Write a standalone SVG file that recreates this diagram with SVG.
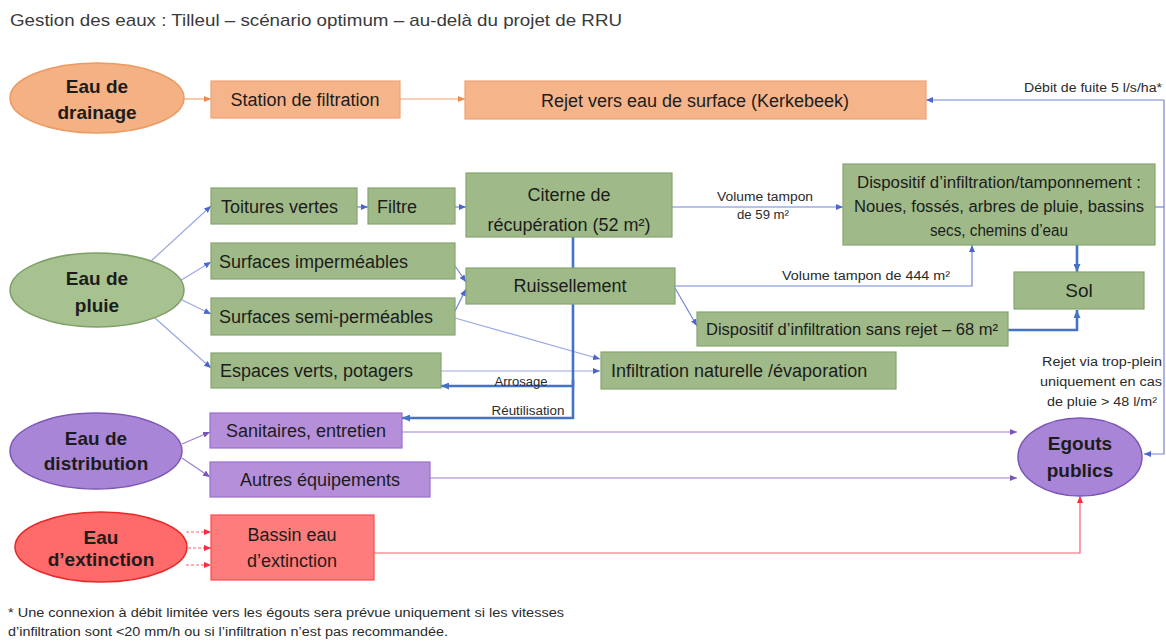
<svg xmlns="http://www.w3.org/2000/svg" width="1166" height="641" viewBox="0 0 1166 641">
  <style>
    text { font-family: "Liberation Sans", Arial, sans-serif; fill: #1c1c1c; }
    .t { font-size: 18px; }
    .ts { font-size: 16px; }
    .el { font-size: 19px; font-weight: bold; }
    .lab { font-size: 12.5px; fill: #2a2a2a; }
    .note { font-size: 12px; fill: #2a2a2a; }
    .mid { text-anchor: middle; }
    .end { text-anchor: end; }
    .or { fill: #f5b48a; stroke: #f1a273; stroke-width: 1.2; }
    .gr { fill: #9fba88; stroke: #86a56e; stroke-width: 1.2; }
    .pu { fill: #b68fdb; stroke: #9a6fcf; stroke-width: 1.2; }
    .rd { fill: #ff7c7c; stroke: #ff4a4a; stroke-width: 1.2; }
    .eor { fill: #f4b183; stroke: #ec9a62; stroke-width: 1.5; }
    .egr { fill: #a7c290; stroke: #7f9f66; stroke-width: 1.5; }
    .epu { fill: #a985d8; stroke: #7d56b6; stroke-width: 1.5; }
    .erd { fill: #ff6a6a; stroke: #e52a2a; stroke-width: 1.5; }
    .c { fill: none; stroke-width: 1.2; }
    .cb { stroke: #6f86d8; marker-end: url(#ab); }
    .cbn { stroke: #6f86d8; }
    .cl { stroke: #9aa6e6; marker-end: url(#ab); }
    .ck { stroke: #4472c4; stroke-width: 2.6; }
    .co { stroke: #f4a470; marker-end: url(#ao); }
    .cp { stroke: #9a7ed4; marker-end: url(#ap); }
    .cr { stroke: #ff5a6a; marker-end: url(#ar); }
  </style>
  <defs>
    <marker id="ab" markerUnits="userSpaceOnUse" markerWidth="7" markerHeight="6" refX="7" refY="3" orient="auto"><path d="M0,0 L7,3 L0,6 z" fill="#4a66cc"/></marker>
    <marker id="abk" markerUnits="userSpaceOnUse" markerWidth="8" markerHeight="7" refX="8" refY="3.5" orient="auto"><path d="M0,0 L8,3.5 L0,7 z" fill="#4472c4"/></marker>
    <marker id="ao" markerUnits="userSpaceOnUse" markerWidth="7" markerHeight="6" refX="7" refY="3" orient="auto"><path d="M0,0 L7,3 L0,6 z" fill="#ee8a4a"/></marker>
    <marker id="ap" markerUnits="userSpaceOnUse" markerWidth="7" markerHeight="6" refX="7" refY="3" orient="auto"><path d="M0,0 L7,3 L0,6 z" fill="#7a55b8"/></marker>
    <marker id="ar" markerUnits="userSpaceOnUse" markerWidth="7" markerHeight="6" refX="7" refY="3" orient="auto"><path d="M0,0 L7,3 L0,6 z" fill="#ff2a40"/></marker>
  </defs>

  <rect width="1166" height="641" fill="#ffffff"/>

  <text x="10" y="26" style="font-size:17px; fill:#3a3a3a" textLength="612" lengthAdjust="spacingAndGlyphs">Gestion des eaux : Tilleul – scénario optimum – au-delà du projet de RRU</text>

  <!-- connectors -->
  <g id="connectors">
    <!-- drainage -->
    <line class="c co" x1="184" y1="99" x2="211" y2="99"/>
    <line class="c co" x1="400" y1="99" x2="465" y2="99"/>
    <!-- rain water -->
    <line class="c cl" x1="150" y1="262" x2="211" y2="206"/>
    <line class="c cl" x1="178" y1="282" x2="211" y2="262"/>
    <line class="c cl" x1="178" y1="298" x2="211" y2="314"/>
    <line class="c cl" x1="155" y1="318" x2="211" y2="368"/>
    <line class="c cb" x1="357" y1="207" x2="368" y2="207"/>
    <line class="c cb" x1="455" y1="207" x2="466" y2="207"/>
    <line class="c cb" x1="672" y1="207" x2="843" y2="207"/>
    <line class="c cb" x1="455" y1="266" x2="466" y2="282"/>
    <line class="c cb" x1="455" y1="311" x2="466" y2="289"/>
    <line class="c cl" x1="455" y1="318" x2="600" y2="359"/>
    <line class="c cl" x1="441" y1="371" x2="600" y2="371"/>
    <polyline class="c cb" points="675,286 972,286 972,245"/>
    <line class="c cb" x1="675" y1="288" x2="697" y2="326"/>
    <polyline class="c ck" points="1008,330 1077,330 1077,310" marker-end="url(#abk)"/>
    <line class="c ck" x1="1077" y1="245" x2="1077" y2="272" marker-end="url(#abk)"/>
    <!-- reuse of stored rain water -->
    <polyline class="c ck" points="573,237 573,386 441,386" marker-end="url(#abk)"/>
    <polyline class="c ck" points="573,380 573,418 402,418" marker-end="url(#abk)"/>
    <!-- leak flow and overflow on the right -->
    <line class="c cbn" x1="1155" y1="207" x2="1164" y2="207"/>
    <line class="c cb" x1="1164" y1="100" x2="926" y2="100"/>
    <polyline class="c cb" points="1164,100 1164,454 1144,454"/>
    <!-- distribution water -->
    <line class="c cp" x1="182" y1="444" x2="210" y2="432"/>
    <line class="c cp" x1="182" y1="458" x2="210" y2="477"/>
    <line class="c cp" x1="402" y1="432" x2="1017" y2="432"/>
    <line class="c cp" x1="430" y1="478" x2="1017" y2="478"/>
    <!-- fire water -->
    <line class="c cr" x1="186" y1="532" x2="211" y2="532" stroke-dasharray="3 2"/>
    <line class="c cr" x1="188" y1="548" x2="211" y2="548" stroke-dasharray="3 2"/>
    <line class="c cr" x1="186" y1="565" x2="211" y2="565" stroke-dasharray="3 2"/>
    <polyline class="c cr" points="374,553 1080,553 1080,496"/>
  </g>

  <!-- connector labels -->
  <g id="labels">
    <text class="lab end" x="1162" y="92" textLength="138" lengthAdjust="spacingAndGlyphs">Débit de fuite 5 l/s/ha*</text>
    <text class="lab mid" x="765" y="201" textLength="96" lengthAdjust="spacingAndGlyphs">Volume tampon</text>
    <text class="lab mid" x="763" y="219" textLength="52" lengthAdjust="spacingAndGlyphs">de 59 m²</text>
    <text class="lab mid" x="866" y="280" textLength="168" lengthAdjust="spacingAndGlyphs">Volume tampon  de 444 m²</text>
    <text class="lab mid" x="521" y="386" textLength="53" lengthAdjust="spacingAndGlyphs">Arrosage</text>
    <text class="lab mid" x="528" y="415" textLength="73" lengthAdjust="spacingAndGlyphs">Réutilisation</text>
    <text class="lab end" x="1162" y="366" textLength="120" lengthAdjust="spacingAndGlyphs">Rejet via trop-plein</text>
    <text class="lab end" x="1162" y="386" textLength="122" lengthAdjust="spacingAndGlyphs">uniquement  en cas</text>
    <text class="lab end" x="1157" y="406" textLength="110" lengthAdjust="spacingAndGlyphs">de pluie &gt; 48 l/m²</text>
  </g>

  <!-- drainage water -->
  <g id="eau-drainage">
    <ellipse class="eor" cx="97" cy="98" rx="87" ry="35"/>
    <text class="el mid" x="97" y="93">Eau de</text>
    <text class="el mid" x="97" y="119">drainage</text>
  </g>
  <g id="station-filtration">
    <rect class="or" x="211" y="81" width="189" height="37"/>
    <text class="t mid" x="305" y="106">Station de filtration</text>
  </g>
  <g id="rejet-surface">
    <rect class="or" x="465" y="81" width="461" height="38"/>
    <text class="t mid" x="695" y="107">Rejet vers eau de surface (Kerkebeek)</text>
  </g>

  <!-- rain water -->
  <g id="eau-pluie">
    <ellipse class="egr" cx="97" cy="290" rx="87" ry="37"/>
    <text class="el mid" x="97" y="285">Eau de</text>
    <text class="el mid" x="97" y="312">pluie</text>
  </g>
  <g id="toitures-vertes">
    <rect class="gr" x="211" y="188" width="146" height="36"/>
    <text class="t" x="221" y="213">Toitures vertes</text>
  </g>
  <g id="filtre">
    <rect class="gr" x="368" y="188" width="87" height="36"/>
    <text class="t" x="377" y="213">Filtre</text>
  </g>
  <g id="citerne">
    <rect class="gr" x="466" y="173" width="206" height="64"/>
    <text class="t mid" x="569" y="201">Citerne de</text>
    <text class="t mid" x="569" y="231">récupération (52 m²)</text>
  </g>
  <g id="surfaces-impermeables">
    <rect class="gr" x="211" y="243" width="244" height="36"/>
    <text class="t" x="219" y="268">Surfaces imperméables</text>
  </g>
  <g id="surfaces-semi-permeables">
    <rect class="gr" x="211" y="298" width="244" height="37"/>
    <text class="t" x="219" y="323">Surfaces semi-perméables</text>
  </g>
  <g id="espaces-verts">
    <rect class="gr" x="211" y="353" width="230" height="35"/>
    <text class="t" x="220" y="377">Espaces verts, potagers</text>
  </g>
  <g id="ruissellement">
    <rect class="gr" x="466" y="268" width="209" height="36"/>
    <text class="t mid" x="570" y="292">Ruissellement</text>
  </g>
  <g id="infiltration-naturelle">
    <rect class="gr" x="601" y="352" width="295" height="37"/>
    <text class="t" x="611" y="377">Infiltration naturelle /évaporation</text>
  </g>
  <g id="dispositif-sans-rejet">
    <rect class="gr" x="697" y="312" width="311" height="34"/>
    <text class="ts mid" x="852" y="335" textLength="292" lengthAdjust="spacingAndGlyphs">Dispositif d’infiltration sans rejet – 68 m²</text>
  </g>
  <g id="dispositif-tamponnement">
    <rect class="gr" x="843" y="164" width="312" height="81"/>
    <text class="ts mid" x="999" y="188" textLength="284" lengthAdjust="spacingAndGlyphs">Dispositif d’infiltration/tamponnement  :</text>
    <text class="ts mid" x="999" y="212" textLength="290" lengthAdjust="spacingAndGlyphs">Noues, fossés, arbres de pluie, bassins</text>
    <text class="ts mid" x="999" y="236" textLength="138" lengthAdjust="spacingAndGlyphs">secs, chemins d’eau</text>
  </g>
  <g id="sol">
    <rect class="gr" x="1014" y="272" width="130" height="37"/>
    <text class="t mid" x="1079" y="297" style="font-size:19px">Sol</text>
  </g>

  <!-- distribution water -->
  <g id="eau-distribution">
    <ellipse class="epu" cx="96" cy="451" rx="86" ry="38"/>
    <text class="el mid" x="96" y="445">Eau de</text>
    <text class="el mid" x="96" y="470">distribution</text>
  </g>
  <g id="sanitaires">
    <rect class="pu" x="210" y="413" width="192" height="35"/>
    <text class="t mid" x="306" y="437">Sanitaires, entretien</text>
  </g>
  <g id="autres-equipements">
    <rect class="pu" x="210" y="462" width="220" height="35"/>
    <text class="t mid" x="320" y="486">Autres équipements</text>
  </g>
  <g id="egouts-publics">
    <ellipse class="epu" cx="1080" cy="457" rx="62" ry="39"/>
    <text class="el mid" x="1080" y="450">Egouts</text>
    <text class="el mid" x="1080" y="477">publics</text>
  </g>

  <!-- fire-fighting water -->
  <g id="eau-extinction">
    <ellipse class="erd" cx="101" cy="547" rx="86" ry="35"/>
    <text class="el mid" x="101" y="544">Eau</text>
    <text class="el mid" x="101" y="566">d’extinction</text>
  </g>
  <g id="bassin-extinction">
    <rect class="rd" x="211" y="515" width="163" height="65"/>
    <text class="t mid" x="292" y="541">Bassin eau</text>
    <text class="t mid" x="292" y="567">d’extinction</text>
  </g>

  <!-- footnote -->
  <g id="note">
    <text class="note" x="8" y="617" textLength="556" lengthAdjust="spacingAndGlyphs">* Une connexion  à débit limitée vers les égouts sera prévue uniquement  si les vitesses</text>
    <text class="note" x="8" y="636" textLength="440" lengthAdjust="spacingAndGlyphs">d’infiltration  sont &lt;20 mm/h ou si l’infiltration  n’est pas recommandée.</text>
  </g>
</svg>
